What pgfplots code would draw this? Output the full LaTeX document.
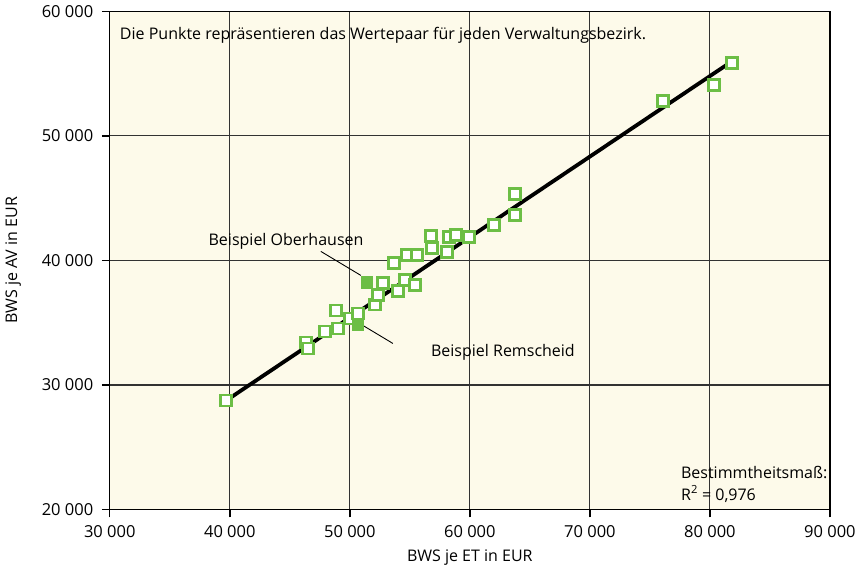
\documentclass[border=0pt]{standalone}
\usepackage{fontspec}
\setmainfont{Open Sans}
\usepackage{pgfplots}
\pgfplotsset{compat=1.18}
\definecolor{bgcream}{RGB}{253,250,234}
\definecolor{markgreen}{RGB}{108,190,69}
\definecolor{gridgray}{RGB}{50,50,50}

\begin{document}
\fontsize{16pt}{19pt}\selectfont
\begin{tikzpicture}
\begin{axis}[
    width=720pt, height=498pt,
    scale only axis,
    xmin=30000, xmax=90000,
    ymin=20000, ymax=60000,
    xtick={30000,40000,...,90000},
    ytick={20000,30000,...,60000},
    /pgf/number format/assume math mode=true,
    /pgf/number format/1000 sep={\ },
    scaled ticks=false,
    tick label style={font=\fontsize{16.5pt}{19pt}\selectfont},
    xticklabel style={yshift=-3pt},
    yticklabel style={xshift=-3pt},
    label style={font=\fontsize{16pt}{19pt}\selectfont},
    xlabel={BWS je ET in EUR},
    ylabel={BWS je AV in EUR},
    xlabel style={yshift=-1pt},
    ylabel style={yshift=10pt},
    axis background/.style={fill=bgcream},
    axis line style={black, line width=1.4pt},
    grid=major,
    major grid style={gridgray, line width=1.1pt},
    tick align=outside,
    major tick length=8pt,
    tick style={black, line width=1.4pt},
    xtick pos=bottom, ytick pos=left,
    clip=false,
]
% Verwaltungsbezirke
\addplot[only marks, mark=square*, mark size=5.5pt,
         mark options={draw=markgreen, fill=white, line width=2.8pt}]
coordinates {
    (39667,28752) (46333,33415) (46500,32932) (47917,34298) (49000,34540)
    (48833,35987) (50000,35330) (50667,35746) (52083,36469) (52333,37193)
    (52750,38157) (54000,37514) (54583,38398) (55417,37996) (53667,39763)
    (54750,40407) (55583,40407) (56750,41934) (56833,40969) (58083,40648)
    (58250,41854) (58833,42014) (59917,41854) (62000,42814) (63750,43617)
    (63750,45306) (76083,52781) (80333,54067) (81833,55836)
};
% Regressionsgerade
\addplot[black, line width=3.8pt] coordinates {(39700,28750) (81850,56000)};
% Beispiele
\addplot[only marks, mark=square*, mark size=5.5pt,
         mark options={draw=markgreen, fill=markgreen, line width=1.5pt}]
coordinates {(51417,38237) (50667,34862)};

\draw[black, line width=0.9pt] (axis cs:47583,40727) -- (axis cs:50917,38798);
\node[anchor=east, inner sep=0pt] at (axis cs:51150,41535) {Beispiel Oberhausen};
\draw[black, line width=0.9pt] (axis cs:51083,34782) -- (axis cs:53583,33335);
\node[anchor=west, inner sep=0pt] at (axis cs:56750,32611) {Beispiel Remscheid};

\node[anchor=north west, inner sep=0pt] at ([xshift=10pt, yshift=-16pt]rel axis cs:0,1)
    {Die Punkte repräsentieren das Wertepaar für jeden Verwaltungsbezirk.};
\node[anchor=south west, inner sep=0pt, align=left] at ([xshift=-149pt, yshift=7pt]rel axis cs:1,0)
    {Bestimmtheitsmaß:\\[3pt] R\textsuperscript{2} = 0,976};
\end{axis}
\end{tikzpicture}
\end{document}
